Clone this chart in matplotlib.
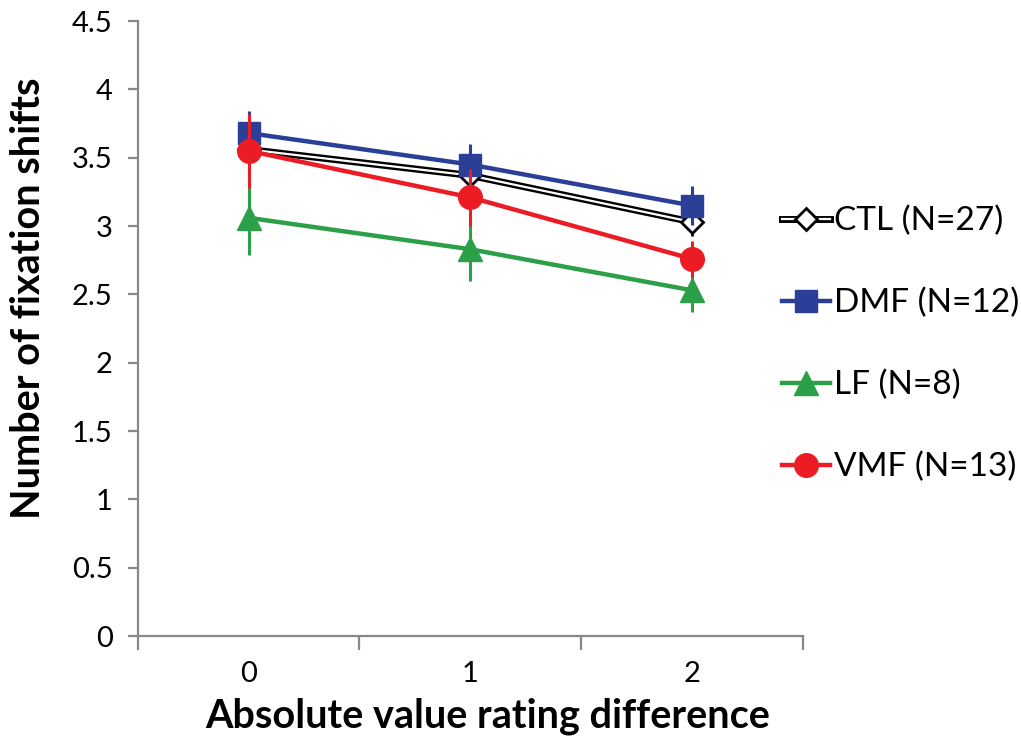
import matplotlib
matplotlib.use("Agg")
import matplotlib.pyplot as plt
from matplotlib.legend_handler import HandlerTuple

plt.rcParams["font.family"] = ["Lato", "DejaVu Sans"]

x_vals = [0, 1, 2]
x_labels = ["0", "1", "2"]

groups = ["CTL (N=27)", "DMF (N=12)", "LF (N=8)", "VMF (N=13)"]
ctl = [3.56, 3.37, 3.03]
ctl_se = [0.10, 0.10, 0.10]
dmf = [3.68, 3.45, 3.15]
dmf_se = [0.16, 0.15, 0.14]
lf = [3.06, 2.83, 2.53]
lf_se = [0.27, 0.23, 0.16]
vmf = [3.55, 3.21, 2.76]
vmf_se = [0.27, 0.21, 0.13]

blue = "#2b3f99"
green = "#2ca048"
red = "#ec1c24"
grey = "#888888"

fig = plt.figure(figsize=(10.21, 7.37), dpi=100)
ax = fig.add_axes([0.135, 0.137, 0.651, 0.8345])

handles = []

# CTL: black line with a white core
ax.errorbar(x_vals, ctl, yerr=ctl_se, fmt="none", ecolor="black", elinewidth=2, capsize=0, zorder=2)
l1, = ax.plot(x_vals, ctl, color="black", lw=5, zorder=3)
l2, = ax.plot(x_vals, ctl, color="white", lw=1.6, zorder=3)
m1, = ax.plot(x_vals, ctl, ls="none", marker="D", ms=11, mfc="white", mec="black", mew=2, zorder=3)
handles.append((l1, l2, m1))

for vals, se, col, mk, ms, z in [
    (dmf, dmf_se, blue, "s", 16, 4),
    (lf, lf_se, green, "^", 17, 5),
    (vmf, vmf_se, red, "o", 17, 6),
]:
    ax.errorbar(x_vals, vals, yerr=se, fmt="none", ecolor=col, elinewidth=2.2, capsize=0, zorder=z)
    ln, = ax.plot(x_vals, vals, color=col, lw=3.2, marker=mk, ms=ms, mfc=col, mec=col, zorder=z)
    handles.append(ln)

ax.set_xlim(-0.5, 2.5)
ax.set_ylim(0, 4.5)
ax.set_yticks([i * 0.5 for i in range(10)])
ax.set_yticklabels(["0", "0.5", "1", "1.5", "2", "2.5", "3", "3.5", "4", "4.5"])
ax.set_xticks(x_vals)
ax.set_xticklabels(x_labels)
ax.set_xticks([-0.5, 0.5, 1.5, 2.5], minor=True)

for s in ["top", "right"]:
    ax.spines[s].set_visible(False)
for s in ["left", "bottom"]:
    ax.spines[s].set_color(grey)
    ax.spines[s].set_linewidth(1.6)

ax.tick_params(axis="y", which="major", direction="out", length=7, width=1.6, color=grey,
               labelsize=21, pad=11)
ax.tick_params(axis="x", which="major", length=0, labelsize=21, pad=18)
ax.tick_params(axis="x", which="minor", direction="out", length=10, width=1.6, color=grey)

ax.set_ylabel("Number of fixation shifts", fontsize=28.5, fontweight="bold")
ax.set_xlabel("Absolute value rating difference", fontsize=28.5, fontweight="bold")
ax.yaxis.set_label_coords(-0.137, 0.55)
ax.xaxis.set_label_coords(0.526, -0.10)

fig.legend(handles, groups, handler_map={tuple: HandlerTuple(ndivide=1)},
           loc="center left", bbox_to_anchor=(0.766, 0.533), frameon=False,
           borderaxespad=0, borderpad=0,
           fontsize=24, handlelength=1.45, handletextpad=0.12, labelspacing=1.55)

fig.savefig("out.png", dpi=100)
